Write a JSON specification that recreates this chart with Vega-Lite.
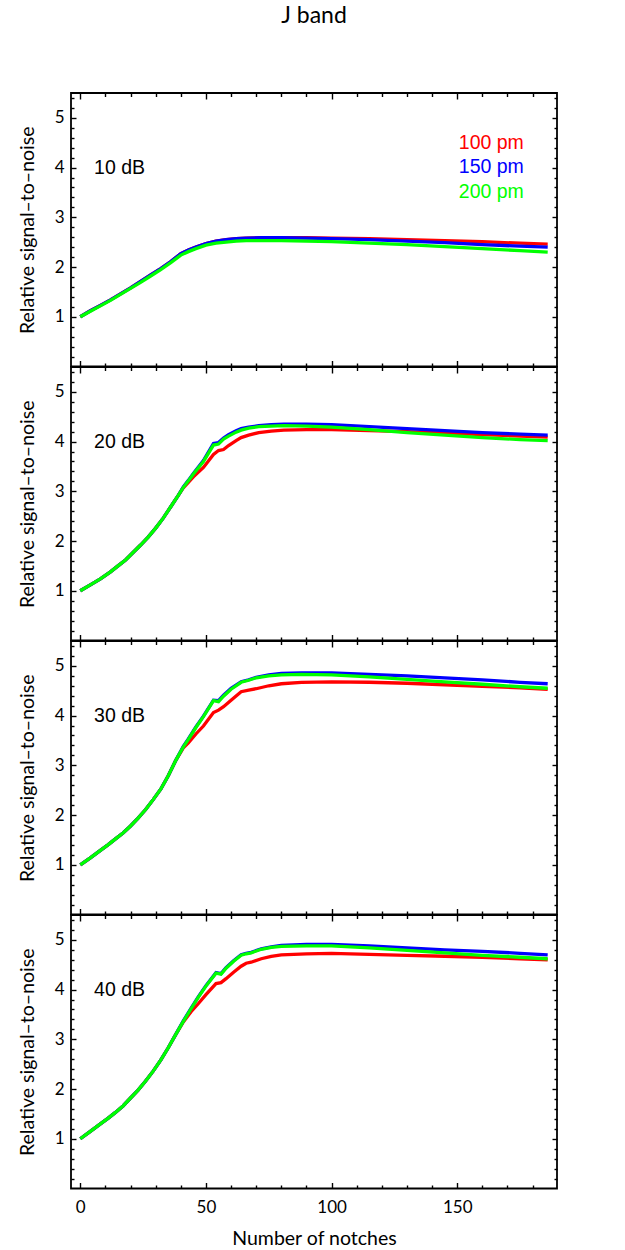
{
  "$schema": "https://vega.github.io/schema/vega-lite/v6.json",
  "background": "white",
  "autosize": {"type": "pad"},
  "padding": {"left": 16, "top": 4, "right": 5, "bottom": 0},
  "spacing": 0,
  "bounds": "flush",
  "datasets": {
    "curves": [
      {"p":10,"x":0,"r":1.00,"b":1.00,"g":1.00},{"p":10,"x":4,"r":1.12,"b":1.12,"g":1.11},{"p":10,"x":8,"r":1.23,"b":1.23,"g":1.22},{"p":10,"x":12,"r":1.34,"b":1.34,"g":1.33},{"p":10,"x":16,"r":1.46,"b":1.46,"g":1.45},{"p":10,"x":20,"r":1.58,"b":1.58,"g":1.57},{"p":10,"x":24,"r":1.71,"b":1.71,"g":1.69},{"p":10,"x":28,"r":1.84,"b":1.84,"g":1.82},{"p":10,"x":32,"r":1.97,"b":1.97,"g":1.95},{"p":10,"x":36,"r":2.11,"b":2.11,"g":2.09},{"p":10,"x":40,"r":2.27,"b":2.27,"g":2.24},{"p":10,"x":43,"r":2.34,"b":2.34,"g":2.31},{"p":10,"x":46,"r":2.40,"b":2.40,"g":2.37},{"p":10,"x":50,"r":2.47,"b":2.47,"g":2.44},{"p":10,"x":54,"r":2.52,"b":2.52,"g":2.48},{"p":10,"x":58,"r":2.55,"b":2.55,"g":2.50},{"p":10,"x":62,"r":2.57,"b":2.57,"g":2.52},{"p":10,"x":66,"r":2.58,"b":2.58,"g":2.53},{"p":10,"x":72,"r":2.59,"b":2.59,"g":2.53},{"p":10,"x":80,"r":2.59,"b":2.59,"g":2.53},{"p":10,"x":90,"r":2.59,"b":2.58,"g":2.52},{"p":10,"x":100,"r":2.58,"b":2.57,"g":2.51},{"p":10,"x":115,"r":2.57,"b":2.55,"g":2.48},{"p":10,"x":130,"r":2.55,"b":2.52,"g":2.45},{"p":10,"x":145,"r":2.53,"b":2.49,"g":2.41},{"p":10,"x":160,"r":2.51,"b":2.45,"g":2.37},{"p":10,"x":175,"r":2.48,"b":2.42,"g":2.33},{"p":10,"x":186,"r":2.46,"b":2.40,"g":2.30},
      {"p":20,"x":0,"r":1.00,"b":1.00,"g":1.00},{"p":20,"x":4,"r":1.12,"b":1.12,"g":1.12},{"p":20,"x":8,"r":1.24,"b":1.24,"g":1.24},{"p":20,"x":12,"r":1.38,"b":1.38,"g":1.38},{"p":20,"x":15,"r":1.50,"b":1.50,"g":1.50},{"p":20,"x":18,"r":1.62,"b":1.62,"g":1.62},{"p":20,"x":21,"r":1.77,"b":1.77,"g":1.77},{"p":20,"x":24,"r":1.92,"b":1.92,"g":1.92},{"p":20,"x":27,"r":2.08,"b":2.08,"g":2.08},{"p":20,"x":30,"r":2.26,"b":2.26,"g":2.26},{"p":20,"x":33,"r":2.46,"b":2.46,"g":2.46},{"p":20,"x":36,"r":2.69,"b":2.69,"g":2.69},{"p":20,"x":39,"r":2.92,"b":2.92,"g":2.92},{"p":20,"x":41,"r":3.07,"b":3.09,"g":3.08},{"p":20,"x":43,"r":3.18,"b":3.22,"g":3.21},{"p":20,"x":45,"r":3.29,"b":3.36,"g":3.35},{"p":20,"x":49,"r":3.48,"b":3.62,"g":3.60},{"p":20,"x":53,"r":3.74,"b":3.96,"g":3.93},{"p":20,"x":55,"r":3.82,"b":3.98,"g":3.95},{"p":20,"x":57,"r":3.84,"b":4.07,"g":4.05},{"p":20,"x":59,"r":3.92,"b":4.14,"g":4.11},{"p":20,"x":62,"r":4.02,"b":4.22,"g":4.19},{"p":20,"x":64,"r":4.08,"b":4.26,"g":4.23},{"p":20,"x":67,"r":4.13,"b":4.29,"g":4.27},{"p":20,"x":71,"r":4.18,"b":4.32,"g":4.30},{"p":20,"x":76,"r":4.21,"b":4.34,"g":4.31},{"p":20,"x":81,"r":4.23,"b":4.35,"g":4.32},{"p":20,"x":90,"r":4.24,"b":4.35,"g":4.31},{"p":20,"x":100,"r":4.24,"b":4.34,"g":4.29},{"p":20,"x":115,"r":4.22,"b":4.30,"g":4.24},{"p":20,"x":130,"r":4.20,"b":4.26,"g":4.18},{"p":20,"x":145,"r":4.17,"b":4.22,"g":4.13},{"p":20,"x":160,"r":4.14,"b":4.18,"g":4.08},{"p":20,"x":175,"r":4.11,"b":4.15,"g":4.04},{"p":20,"x":186,"r":4.09,"b":4.13,"g":4.02},
      {"p":30,"x":0,"r":1.00,"b":1.00,"g":1.00},{"p":30,"x":4,"r":1.14,"b":1.14,"g":1.14},{"p":30,"x":8,"r":1.29,"b":1.29,"g":1.29},{"p":30,"x":11,"r":1.40,"b":1.40,"g":1.40},{"p":30,"x":14,"r":1.52,"b":1.52,"g":1.52},{"p":30,"x":17,"r":1.64,"b":1.64,"g":1.64},{"p":30,"x":20,"r":1.78,"b":1.78,"g":1.78},{"p":30,"x":23,"r":1.94,"b":1.94,"g":1.94},{"p":30,"x":26,"r":2.11,"b":2.11,"g":2.11},{"p":30,"x":29,"r":2.31,"b":2.31,"g":2.31},{"p":30,"x":32,"r":2.52,"b":2.52,"g":2.52},{"p":30,"x":35,"r":2.79,"b":2.79,"g":2.79},{"p":30,"x":38,"r":3.10,"b":3.10,"g":3.10},{"p":30,"x":41,"r":3.35,"b":3.38,"g":3.37},{"p":30,"x":43,"r":3.45,"b":3.53,"g":3.52},{"p":30,"x":46,"r":3.63,"b":3.77,"g":3.76},{"p":30,"x":49,"r":3.79,"b":3.99,"g":3.98},{"p":30,"x":53,"r":4.06,"b":4.31,"g":4.30},{"p":30,"x":55,"r":4.11,"b":4.30,"g":4.28},{"p":30,"x":57,"r":4.18,"b":4.41,"g":4.39},{"p":30,"x":60,"r":4.31,"b":4.55,"g":4.53},{"p":30,"x":64,"r":4.48,"b":4.68,"g":4.67},{"p":30,"x":67,"r":4.51,"b":4.72,"g":4.71},{"p":30,"x":70,"r":4.54,"b":4.77,"g":4.76},{"p":30,"x":75,"r":4.60,"b":4.82,"g":4.80},{"p":30,"x":80,"r":4.64,"b":4.85,"g":4.82},{"p":30,"x":88,"r":4.67,"b":4.86,"g":4.83},{"p":30,"x":100,"r":4.68,"b":4.86,"g":4.82},{"p":30,"x":115,"r":4.67,"b":4.83,"g":4.78},{"p":30,"x":130,"r":4.65,"b":4.80,"g":4.73},{"p":30,"x":145,"r":4.62,"b":4.76,"g":4.68},{"p":30,"x":160,"r":4.59,"b":4.72,"g":4.63},{"p":30,"x":175,"r":4.56,"b":4.67,"g":4.58},{"p":30,"x":186,"r":4.53,"b":4.64,"g":4.55},
      {"p":40,"x":0,"r":1.00,"b":1.00,"g":1.00},{"p":40,"x":4,"r":1.15,"b":1.15,"g":1.15},{"p":40,"x":8,"r":1.30,"b":1.30,"g":1.30},{"p":40,"x":11,"r":1.41,"b":1.41,"g":1.41},{"p":40,"x":14,"r":1.53,"b":1.53,"g":1.53},{"p":40,"x":17,"r":1.66,"b":1.66,"g":1.66},{"p":40,"x":20,"r":1.82,"b":1.82,"g":1.82},{"p":40,"x":23,"r":1.98,"b":1.98,"g":1.98},{"p":40,"x":26,"r":2.16,"b":2.16,"g":2.16},{"p":40,"x":29,"r":2.36,"b":2.36,"g":2.36},{"p":40,"x":32,"r":2.58,"b":2.58,"g":2.58},{"p":40,"x":35,"r":2.83,"b":2.83,"g":2.83},{"p":40,"x":38,"r":3.10,"b":3.10,"g":3.10},{"p":40,"x":41,"r":3.35,"b":3.37,"g":3.36},{"p":40,"x":44,"r":3.55,"b":3.62,"g":3.61},{"p":40,"x":47,"r":3.72,"b":3.86,"g":3.85},{"p":40,"x":50,"r":3.90,"b":4.08,"g":4.07},{"p":40,"x":54,"r":4.12,"b":4.34,"g":4.33},{"p":40,"x":56,"r":4.14,"b":4.32,"g":4.31},{"p":40,"x":58,"r":4.22,"b":4.44,"g":4.43},{"p":40,"x":61,"r":4.35,"b":4.58,"g":4.57},{"p":40,"x":64,"r":4.47,"b":4.70,"g":4.69},{"p":40,"x":66,"r":4.53,"b":4.73,"g":4.72},{"p":40,"x":68,"r":4.55,"b":4.75,"g":4.74},{"p":40,"x":72,"r":4.62,"b":4.82,"g":4.81},{"p":40,"x":76,"r":4.67,"b":4.86,"g":4.85},{"p":40,"x":80,"r":4.70,"b":4.89,"g":4.87},{"p":40,"x":90,"r":4.72,"b":4.91,"g":4.88},{"p":40,"x":100,"r":4.73,"b":4.91,"g":4.88},{"p":40,"x":115,"r":4.71,"b":4.88,"g":4.84},{"p":40,"x":130,"r":4.69,"b":4.84,"g":4.79},{"p":40,"x":145,"r":4.67,"b":4.80,"g":4.74},{"p":40,"x":160,"r":4.65,"b":4.77,"g":4.69},{"p":40,"x":175,"r":4.62,"b":4.73,"g":4.65},{"p":40,"x":186,"r":4.60,"b":4.70,"g":4.62}
    ]
  },
  "vconcat": [
    {
      "width": 486, "height": 273.5,
      "title": {"text": "J band", "frame": "group", "anchor": "middle", "fontSize": 23, "font": "Lato", "fontWeight": "normal", "offset": 64},
      "data": {"name": "curves"},
      "layer": [
        {"transform": [{"filter": "datum.p == 10"}, {"fold": ["r", "b", "g"], "as": ["s", "y"]}],
         "mark": {"type": "line", "strokeWidth": 3.3},
         "encoding": {
           "x": {"field": "x", "type": "quantitative", "scale": {"domain": [-3.7, 189.7], "nice": false, "zero": false},
                 "axis": {"orient": "bottom", "values": [0,50,100,150], "offset": -6, "tickSize": 6, "labels": false, "title": null}},
           "y": {"field": "y", "type": "quantitative", "scale": {"domain": [0, 5.5], "nice": false, "zero": false},
                 "axis": {"orient": "left", "values": [1,2,3,4,5], "offset": -5, "tickSize": 5, "format": "d", "labelPadding": 7, "title": "Relative signal–to–noise", "titlePadding": 17}},
           "color": {"field": "s", "type": "nominal", "scale": {"domain": ["r", "b", "g"], "range": ["#ff0000", "#0000ff", "#00ff00"]}, "legend": null}
         }},
        {"transform": [{"filter": "datum.p == 10"}, {"fold": ["r", "b", "g"], "as": ["s", "y"]}],
         "mark": {"type": "line", "opacity": 0},
         "encoding": {
           "x": {"field": "x", "type": "quantitative", "axis": {"orient": "bottom", "values": [10,20,30,40,60,70,80,90,110,120,130,140,160,170,180], "offset": -3.5, "tickSize": 3.5, "labels": false, "title": null}},
           "y": {"field": "y", "type": "quantitative", "axis": {"orient": "left", "values": [0.2,0.4,0.6,0.8,1.2,1.4,1.6,1.8,2.2,2.4,2.6,2.8,3.2,3.4,3.6,3.8,4.2,4.4,4.6,4.8,5.2,5.4], "offset": -3, "tickSize": 3, "labels": false, "title": null}},
           "detail": {"field": "s"}
         }},
        {"transform": [{"filter": "datum.p == 10"}, {"fold": ["r", "b", "g"], "as": ["s", "y"]}],
         "mark": {"type": "line", "opacity": 0},
         "encoding": {
           "x": {"field": "x", "type": "quantitative", "axis": {"orient": "top", "values": [0,50,100,150], "offset": -6, "tickSize": 6, "labels": false, "title": null}},
           "y": {"field": "y", "type": "quantitative", "axis": {"orient": "right", "values": [1,2,3,4,5], "offset": -5, "tickSize": 5, "labels": false, "title": null}},
           "detail": {"field": "s"}
         }},
        {"transform": [{"filter": "datum.p == 10"}, {"fold": ["r", "b", "g"], "as": ["s", "y"]}],
         "mark": {"type": "line", "opacity": 0},
         "encoding": {
           "x": {"field": "x", "type": "quantitative", "axis": {"orient": "top", "values": [10,20,30,40,60,70,80,90,110,120,130,140,160,170,180], "offset": -3.5, "tickSize": 3.5, "labels": false, "title": null}},
           "y": {"field": "y", "type": "quantitative", "axis": {"orient": "right", "values": [0.2,0.4,0.6,0.8,1.2,1.4,1.6,1.8,2.2,2.4,2.6,2.8,3.2,3.4,3.6,3.8,4.2,4.4,4.6,4.8,5.2,5.4], "offset": -3, "tickSize": 3, "labels": false, "title": null}},
           "detail": {"field": "s"}
         }},
        {"data": {"values": [{}]}, "mark": {"type": "text", "font": "Liberation Sans", "fontSize": 19.5, "align": "left", "baseline": "middle"},
         "encoding": {"x": {"datum": 5.5, "type": "quantitative", "axis": null}, "y": {"datum": 4.0, "type": "quantitative", "axis": null}, "text": {"value": "10 dB"}}},
        {"data": {"values": [{}]}, "mark": {"type": "text", "font": "Liberation Sans", "fontSize": 19.5, "align": "right", "baseline": "middle", "color": "#ff0000"},
         "encoding": {"x": {"datum": 176.5, "type": "quantitative", "axis": null}, "y": {"datum": 4.5, "type": "quantitative", "axis": null}, "text": {"value": "100 pm"}}},
        {"data": {"values": [{}]}, "mark": {"type": "text", "font": "Liberation Sans", "fontSize": 19.5, "align": "right", "baseline": "middle", "color": "#0000ff"},
         "encoding": {"x": {"datum": 176.5, "type": "quantitative", "axis": null}, "y": {"datum": 4.01, "type": "quantitative", "axis": null}, "text": {"value": "150 pm"}}},
        {"data": {"values": [{}]}, "mark": {"type": "text", "font": "Liberation Sans", "fontSize": 19.5, "align": "right", "baseline": "middle", "color": "#00ff00"},
         "encoding": {"x": {"datum": 176.5, "type": "quantitative", "axis": null}, "y": {"datum": 3.5, "type": "quantitative", "axis": null}, "text": {"value": "200 pm"}}}
      ],
      "resolve": {"axis": {"x": "independent", "y": "independent"}}
    },
    {
      "width": 486, "height": 273.5,
      "data": {"name": "curves"},
      "layer": [
        {"transform": [{"filter": "datum.p == 20"}, {"fold": ["r", "b", "g"], "as": ["s", "y"]}],
         "mark": {"type": "line", "strokeWidth": 3.3},
         "encoding": {
           "x": {"field": "x", "type": "quantitative", "scale": {"domain": [-3.7, 189.7], "nice": false, "zero": false},
                 "axis": {"orient": "bottom", "values": [0,50,100,150], "offset": -6, "tickSize": 6, "labels": false, "title": null}},
           "y": {"field": "y", "type": "quantitative", "scale": {"domain": [0, 5.5], "nice": false, "zero": false},
                 "axis": {"orient": "left", "values": [1,2,3,4,5], "offset": -5, "tickSize": 5, "format": "d", "labelPadding": 7, "title": "Relative signal–to–noise", "titlePadding": 17}},
           "color": {"field": "s", "type": "nominal", "scale": {"domain": ["r", "b", "g"], "range": ["#ff0000", "#0000ff", "#00ff00"]}, "legend": null}
         }},
        {"transform": [{"filter": "datum.p == 20"}, {"fold": ["r", "b", "g"], "as": ["s", "y"]}],
         "mark": {"type": "line", "opacity": 0},
         "encoding": {
           "x": {"field": "x", "type": "quantitative", "axis": {"orient": "bottom", "values": [10,20,30,40,60,70,80,90,110,120,130,140,160,170,180], "offset": -3.5, "tickSize": 3.5, "labels": false, "title": null}},
           "y": {"field": "y", "type": "quantitative", "axis": {"orient": "left", "values": [0.2,0.4,0.6,0.8,1.2,1.4,1.6,1.8,2.2,2.4,2.6,2.8,3.2,3.4,3.6,3.8,4.2,4.4,4.6,4.8,5.2,5.4], "offset": -3, "tickSize": 3, "labels": false, "title": null}},
           "detail": {"field": "s"}
         }},
        {"transform": [{"filter": "datum.p == 20"}, {"fold": ["r", "b", "g"], "as": ["s", "y"]}],
         "mark": {"type": "line", "opacity": 0},
         "encoding": {
           "x": {"field": "x", "type": "quantitative", "axis": {"orient": "top", "values": [0,50,100,150], "offset": -6, "tickSize": 6, "labels": false, "title": null}},
           "y": {"field": "y", "type": "quantitative", "axis": {"orient": "right", "values": [1,2,3,4,5], "offset": -5, "tickSize": 5, "labels": false, "title": null}},
           "detail": {"field": "s"}
         }},
        {"transform": [{"filter": "datum.p == 20"}, {"fold": ["r", "b", "g"], "as": ["s", "y"]}],
         "mark": {"type": "line", "opacity": 0},
         "encoding": {
           "x": {"field": "x", "type": "quantitative", "axis": {"orient": "top", "values": [10,20,30,40,60,70,80,90,110,120,130,140,160,170,180], "offset": -3.5, "tickSize": 3.5, "labels": false, "title": null}},
           "y": {"field": "y", "type": "quantitative", "axis": {"orient": "right", "values": [0.2,0.4,0.6,0.8,1.2,1.4,1.6,1.8,2.2,2.4,2.6,2.8,3.2,3.4,3.6,3.8,4.2,4.4,4.6,4.8,5.2,5.4], "offset": -3, "tickSize": 3, "labels": false, "title": null}},
           "detail": {"field": "s"}
         }},
        {"data": {"values": [{}]}, "mark": {"type": "text", "font": "Liberation Sans", "fontSize": 19.5, "align": "left", "baseline": "middle"},
         "encoding": {"x": {"datum": 5.5, "type": "quantitative", "axis": null}, "y": {"datum": 4.0, "type": "quantitative", "axis": null}, "text": {"value": "20 dB"}}}
      ],
      "resolve": {"axis": {"x": "independent", "y": "independent"}}
    },
    {
      "width": 486, "height": 273.5,
      "data": {"name": "curves"},
      "layer": [
        {"transform": [{"filter": "datum.p == 30"}, {"fold": ["r", "b", "g"], "as": ["s", "y"]}],
         "mark": {"type": "line", "strokeWidth": 3.3},
         "encoding": {
           "x": {"field": "x", "type": "quantitative", "scale": {"domain": [-3.7, 189.7], "nice": false, "zero": false},
                 "axis": {"orient": "bottom", "values": [0,50,100,150], "offset": -6, "tickSize": 6, "labels": false, "title": null}},
           "y": {"field": "y", "type": "quantitative", "scale": {"domain": [0, 5.5], "nice": false, "zero": false},
                 "axis": {"orient": "left", "values": [1,2,3,4,5], "offset": -5, "tickSize": 5, "format": "d", "labelPadding": 7, "title": "Relative signal–to–noise", "titlePadding": 17}},
           "color": {"field": "s", "type": "nominal", "scale": {"domain": ["r", "b", "g"], "range": ["#ff0000", "#0000ff", "#00ff00"]}, "legend": null}
         }},
        {"transform": [{"filter": "datum.p == 30"}, {"fold": ["r", "b", "g"], "as": ["s", "y"]}],
         "mark": {"type": "line", "opacity": 0},
         "encoding": {
           "x": {"field": "x", "type": "quantitative", "axis": {"orient": "bottom", "values": [10,20,30,40,60,70,80,90,110,120,130,140,160,170,180], "offset": -3.5, "tickSize": 3.5, "labels": false, "title": null}},
           "y": {"field": "y", "type": "quantitative", "axis": {"orient": "left", "values": [0.2,0.4,0.6,0.8,1.2,1.4,1.6,1.8,2.2,2.4,2.6,2.8,3.2,3.4,3.6,3.8,4.2,4.4,4.6,4.8,5.2,5.4], "offset": -3, "tickSize": 3, "labels": false, "title": null}},
           "detail": {"field": "s"}
         }},
        {"transform": [{"filter": "datum.p == 30"}, {"fold": ["r", "b", "g"], "as": ["s", "y"]}],
         "mark": {"type": "line", "opacity": 0},
         "encoding": {
           "x": {"field": "x", "type": "quantitative", "axis": {"orient": "top", "values": [0,50,100,150], "offset": -6, "tickSize": 6, "labels": false, "title": null}},
           "y": {"field": "y", "type": "quantitative", "axis": {"orient": "right", "values": [1,2,3,4,5], "offset": -5, "tickSize": 5, "labels": false, "title": null}},
           "detail": {"field": "s"}
         }},
        {"transform": [{"filter": "datum.p == 30"}, {"fold": ["r", "b", "g"], "as": ["s", "y"]}],
         "mark": {"type": "line", "opacity": 0},
         "encoding": {
           "x": {"field": "x", "type": "quantitative", "axis": {"orient": "top", "values": [10,20,30,40,60,70,80,90,110,120,130,140,160,170,180], "offset": -3.5, "tickSize": 3.5, "labels": false, "title": null}},
           "y": {"field": "y", "type": "quantitative", "axis": {"orient": "right", "values": [0.2,0.4,0.6,0.8,1.2,1.4,1.6,1.8,2.2,2.4,2.6,2.8,3.2,3.4,3.6,3.8,4.2,4.4,4.6,4.8,5.2,5.4], "offset": -3, "tickSize": 3, "labels": false, "title": null}},
           "detail": {"field": "s"}
         }},
        {"data": {"values": [{}]}, "mark": {"type": "text", "font": "Liberation Sans", "fontSize": 19.5, "align": "left", "baseline": "middle"},
         "encoding": {"x": {"datum": 5.5, "type": "quantitative", "axis": null}, "y": {"datum": 4.0, "type": "quantitative", "axis": null}, "text": {"value": "30 dB"}}}
      ],
      "resolve": {"axis": {"x": "independent", "y": "independent"}}
    },
    {
      "width": 486, "height": 273.5,
      "data": {"name": "curves"},
      "layer": [
        {"transform": [{"filter": "datum.p == 40"}, {"fold": ["r", "b", "g"], "as": ["s", "y"]}],
         "mark": {"type": "line", "strokeWidth": 3.3},
         "encoding": {
           "x": {"field": "x", "type": "quantitative", "scale": {"domain": [-3.7, 189.7], "nice": false, "zero": false},
                 "axis": {"orient": "bottom", "values": [0,50,100,150], "offset": -6, "tickSize": 6, "labelPadding": 11, "title": "Number of notches", "titlePadding": 14}},
           "y": {"field": "y", "type": "quantitative", "scale": {"domain": [0, 5.5], "nice": false, "zero": false},
                 "axis": {"orient": "left", "values": [1,2,3,4,5], "offset": -5, "tickSize": 5, "format": "d", "labelPadding": 7, "title": "Relative signal–to–noise", "titlePadding": 17}},
           "color": {"field": "s", "type": "nominal", "scale": {"domain": ["r", "b", "g"], "range": ["#ff0000", "#0000ff", "#00ff00"]}, "legend": null}
         }},
        {"transform": [{"filter": "datum.p == 40"}, {"fold": ["r", "b", "g"], "as": ["s", "y"]}],
         "mark": {"type": "line", "opacity": 0},
         "encoding": {
           "x": {"field": "x", "type": "quantitative", "axis": {"orient": "bottom", "values": [10,20,30,40,60,70,80,90,110,120,130,140,160,170,180], "offset": -3.5, "tickSize": 3.5, "labels": false, "title": null}},
           "y": {"field": "y", "type": "quantitative", "axis": {"orient": "left", "values": [0.2,0.4,0.6,0.8,1.2,1.4,1.6,1.8,2.2,2.4,2.6,2.8,3.2,3.4,3.6,3.8,4.2,4.4,4.6,4.8,5.2,5.4], "offset": -3, "tickSize": 3, "labels": false, "title": null}},
           "detail": {"field": "s"}
         }},
        {"transform": [{"filter": "datum.p == 40"}, {"fold": ["r", "b", "g"], "as": ["s", "y"]}],
         "mark": {"type": "line", "opacity": 0},
         "encoding": {
           "x": {"field": "x", "type": "quantitative", "axis": {"orient": "top", "values": [0,50,100,150], "offset": -6, "tickSize": 6, "labels": false, "title": null}},
           "y": {"field": "y", "type": "quantitative", "axis": {"orient": "right", "values": [1,2,3,4,5], "offset": -5, "tickSize": 5, "labels": false, "title": null}},
           "detail": {"field": "s"}
         }},
        {"transform": [{"filter": "datum.p == 40"}, {"fold": ["r", "b", "g"], "as": ["s", "y"]}],
         "mark": {"type": "line", "opacity": 0},
         "encoding": {
           "x": {"field": "x", "type": "quantitative", "axis": {"orient": "top", "values": [10,20,30,40,60,70,80,90,110,120,130,140,160,170,180], "offset": -3.5, "tickSize": 3.5, "labels": false, "title": null}},
           "y": {"field": "y", "type": "quantitative", "axis": {"orient": "right", "values": [0.2,0.4,0.6,0.8,1.2,1.4,1.6,1.8,2.2,2.4,2.6,2.8,3.2,3.4,3.6,3.8,4.2,4.4,4.6,4.8,5.2,5.4], "offset": -3, "tickSize": 3, "labels": false, "title": null}},
           "detail": {"field": "s"}
         }},
        {"data": {"values": [{}]}, "mark": {"type": "text", "font": "Liberation Sans", "fontSize": 19.5, "align": "left", "baseline": "middle"},
         "encoding": {"x": {"datum": 5.5, "type": "quantitative", "axis": null}, "y": {"datum": 4.0, "type": "quantitative", "axis": null}, "text": {"value": "40 dB"}}}
      ],
      "resolve": {"axis": {"x": "independent", "y": "independent"}}
    }
  ],
  "config": {
    "view": {"stroke": "black", "strokeWidth": 1.8},
    "axis": {"domain": false, "grid": false, "tickColor": "black", "tickWidth": 1.4, "labelFont": "Lato", "labelFontSize": 17, "labelColor": "black", "titleFont": "Lato", "titleFontSize": 19.5, "titleFontWeight": "normal", "titleColor": "black"},
    "text": {"color": "black"}
  }
}
